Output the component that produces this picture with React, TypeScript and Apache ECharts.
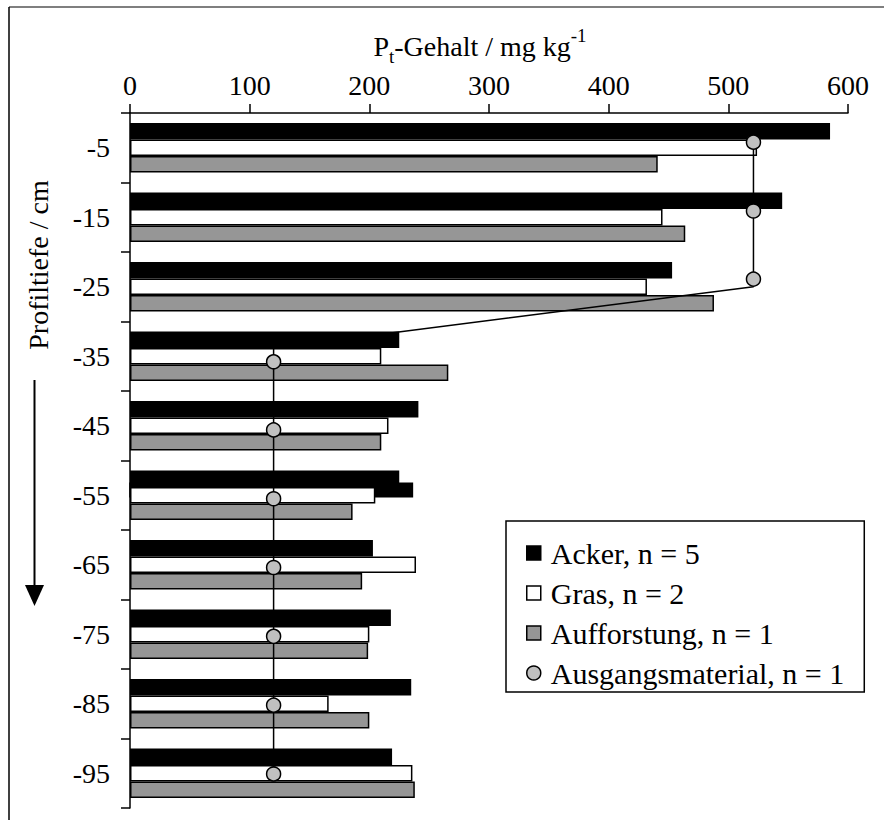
import React, { useEffect, useRef } from "react";
import * as echarts from "echarts";

const depthLabels = ["-5", "-15", "-25", "-35", "-45", "-55", "-65", "-75", "-85", "-95"];
const xTicks = [0, 100, 200, 300, 400, 500, 600];
const acker = [585, 545, 453, 225, 241, 225, 203, 218, 235, 219];
const gras = [524, 445, 432, 210, 216, 205, 239, 200, 166, 236];
const aufforstung = [441, 464, 488, 266, 210, 186, 194, 199, 200, 238];
// Ausgangsmaterial markers (value, depth in cm)
const ausgangValues = [521, 521, 521, 120, 120, 120, 120, 120, 120, 120];
const ausgangDepths = [-4.2, -14.1, -23.9, -35.8, -45.6, -55.5, -65.4, -75.3, -85.2, -95.1];
// Ausgangsmaterial connecting line vertices (value, depth in cm)
const ausgangLineValues = [521, 521, 120, 120];
const ausgangLineDepths = [-4.2, -25.0, -33.8, -95.1];
// second Acker value drawn at -55 (offset rectangle in the original figure)
const ackerExtraDepth = ["-55"];
const ackerExtraValue = [236];

const names = ["Acker, n = 5", "Gras, n = 2", "Aufforstung, n = 1", "Ausgangsmaterial, n = 1"];

const FONT = "Liberation Serif, Times New Roman, serif";
const SQUARE = "path://M0,0H10V10H0Z";

export default function App() {
  const ref = useRef<HTMLDivElement>(null);
  useEffect(() => {
    if (!ref.current) return;
    const chart = echarts.init(ref.current, undefined, { renderer: "svg" });
    const barBase = { type: "bar", barGap: "0%", barCategoryGap: "29%", xAxisIndex: 0, yAxisIndex: 0, z: 2 };
    const option: any = {
      animation: false,
      backgroundColor: "#fff",
      textStyle: { fontFamily: FONT },
      grid: { left: 130, top: 113, width: 718, height: 695, containLabel: false },
      xAxis: [
        {
          type: "value",
          position: "top",
          min: xTicks[0],
          max: xTicks[xTicks.length - 1],
          interval: xTicks[1] - xTicks[0],
          name: "{n|P}{s|t}{n|-Gehalt / mg kg}{p|-1}",
          nameLocation: "middle",
          nameGap: 45,
          nameTextStyle: {
            fontFamily: FONT,
            color: "#000",
            padding: [0, 18, 0, 0],
            rich: {
              n: { fontSize: 28, fontFamily: FONT, color: "#000" },
              s: { fontSize: 19, fontFamily: FONT, color: "#000", padding: [20, 0, 0, 0] },
              p: { fontSize: 19, fontFamily: FONT, color: "#000", padding: [0, 0, 22, 0] },
            },
          },
          axisLine: { show: true, lineStyle: { color: "#000", width: 1.5 } },
          axisTick: { show: true, length: 9, lineStyle: { color: "#000", width: 1.5 } },
          axisLabel: { fontSize: 28, fontFamily: FONT, color: "#000", margin: 14 },
          splitLine: { show: false },
        },
      ],
      yAxis: [
        {
          type: "category",
          inverse: true,
          data: depthLabels,
          axisLine: { show: true, lineStyle: { color: "#000", width: 1.5 } },
          axisTick: { show: true, length: 9, lineStyle: { color: "#000", width: 1.5 } },
          axisLabel: { fontSize: 28, fontFamily: FONT, color: "#000", margin: 20 },
          splitLine: { show: false },
        },
        {
          type: "value",
          min: -100,
          max: 0,
          show: false,
        },
      ],
      legend: {
        orient: "vertical",
        left: 506,
        top: 521,
        itemWidth: 24,
        itemHeight: 14,
        itemGap: 10,
        padding: [17, 20, 4, 20],
        borderColor: "#000",
        borderWidth: 1.5,
        borderRadius: 0,
        backgroundColor: "#fff",
        textStyle: { fontSize: 30, fontFamily: FONT, color: "#000" },
        data: [
          { name: names[0], icon: SQUARE, itemStyle: { color: "#000", borderColor: "#000", borderWidth: 1.5 } },
          { name: names[1], icon: SQUARE, itemStyle: { color: "#fff", borderColor: "#000", borderWidth: 1.5 } },
          { name: names[2], icon: SQUARE, itemStyle: { color: "#969696", borderColor: "#000", borderWidth: 1.5 } },
          { name: names[3], icon: "circle", itemStyle: { color: "#c0c0c0", borderColor: "#000", borderWidth: 1.5 } },
        ],
        z: 10,
      },
      graphic: [
        { type: "line", shape: { x1: 9, y1: 7, x2: 884, y2: 7 }, style: { stroke: "#7f7f7f", lineWidth: 2 }, z: 100 },
        { type: "line", shape: { x1: 9, y1: 7, x2: 9, y2: 820 }, style: { stroke: "#000", lineWidth: 1.5 }, z: 100 },
        {
          type: "text",
          x: 38,
          y: 265,
          rotation: Math.PI / 2,
          style: { text: "Profiltiefe / cm", font: `28px ${FONT}`, fill: "#000", textAlign: "center", textVerticalAlign: "middle" },
        },
        { type: "line", shape: { x1: 34.5, y1: 380, x2: 34.5, y2: 590 }, style: { stroke: "#000", lineWidth: 2 } },
        { type: "polygon", shape: { points: [[25, 585], [44, 585], [34.5, 606]] }, style: { fill: "#000" } },
      ],
      series: [
        {
          ...barBase,
          name: names[0],
          data: acker,
          itemStyle: { color: "#000", borderColor: "#000", borderWidth: 1.5 },
        },
        {
          ...barBase,
          name: names[1],
          data: gras,
          itemStyle: { color: "#fff", borderColor: "#000", borderWidth: 1.5 },
        },
        {
          ...barBase,
          name: names[2],
          data: aufforstung,
          itemStyle: { color: "#969696", borderColor: "#000", borderWidth: 1.5 },
        },
        {
          type: "custom",
          name: "Acker (2)",
          xAxisIndex: 0,
          yAxisIndex: 0,
          z: 1,
          encode: { x: 0, y: 1 },
          data: ackerExtraValue.map((v, i) => [v, ackerExtraDepth[i]]),
          renderItem: (params: any, api: any) => {
            const v = api.value(0);
            const c = api.value(1);
            const end = api.coord([v, c]);
            const start = api.coord([0, c]);
            const band = api.size([0, 1])[1];
            const y0 = end[1] - 0.172 * band;
            const h = 0.193 * band;
            return {
              type: "rect",
              shape: { x: start[0], y: y0, width: end[0] - start[0], height: h },
              style: { fill: "#000", stroke: "#000", lineWidth: 1.5 },
            };
          },
        },
        {
          type: "scatter",
          name: names[3],
          xAxisIndex: 0,
          yAxisIndex: 1,
          z: 6,
          data: ausgangValues.map((v, i) => [v, ausgangDepths[i]]),
          symbol: "circle",
          symbolSize: 14,
          itemStyle: { color: "#c0c0c0", borderColor: "#000", borderWidth: 1.5, opacity: 1 },
        },
        {
          type: "line",
          name: names[3],
          xAxisIndex: 0,
          yAxisIndex: 1,
          z: 5,
          data: ausgangLineValues.map((v, i) => [v, ausgangLineDepths[i]]),
          symbol: "none",
          lineStyle: { color: "#000", width: 1.5 },
          itemStyle: { color: "#c0c0c0" },
        },
      ],
    };
    chart.setOption(option);
    return () => chart.dispose();
  }, []);
  return <div ref={ref} style={{ position: "fixed", left: 0, top: 0, width: 884, height: 820 }} />;
}
